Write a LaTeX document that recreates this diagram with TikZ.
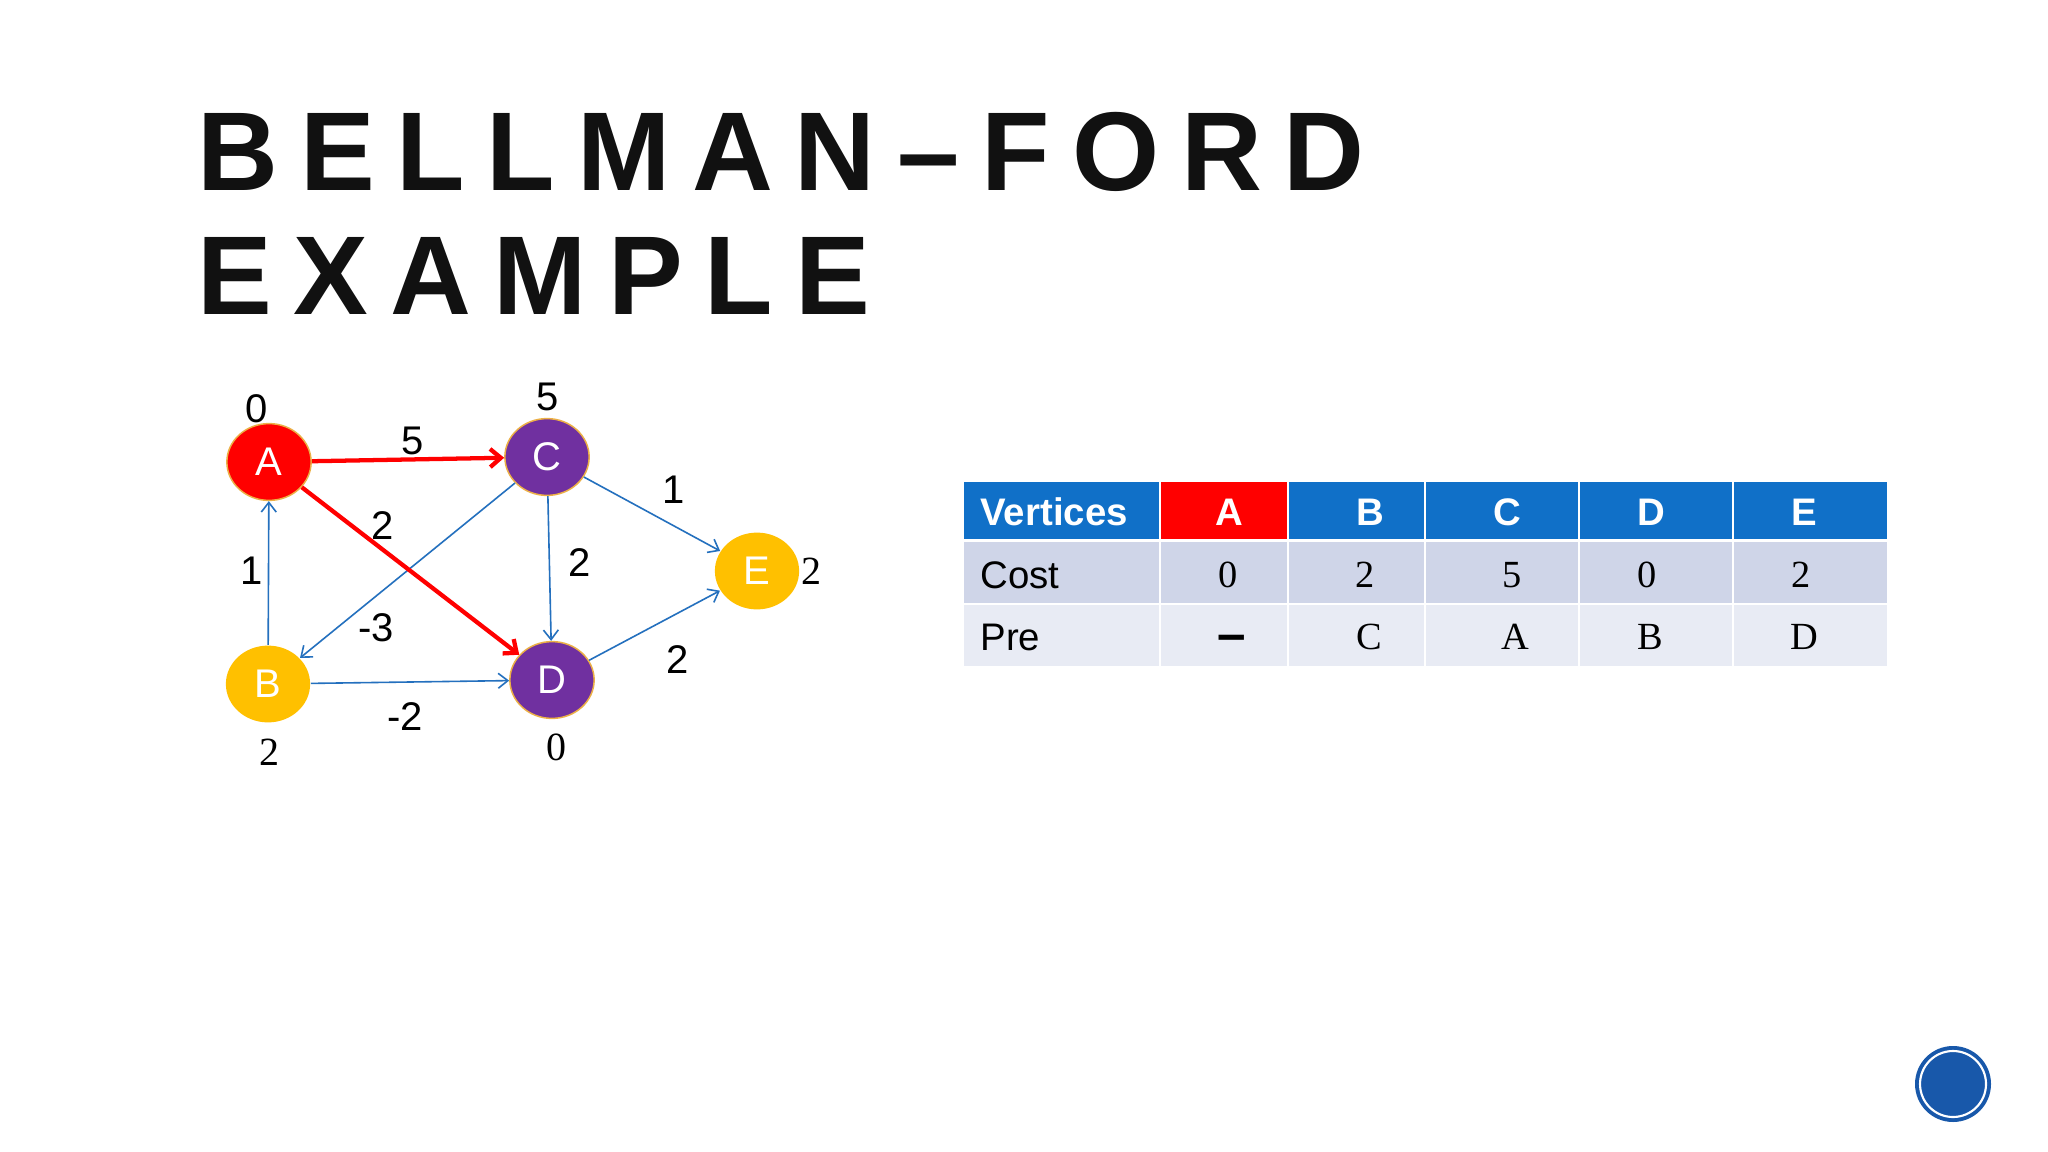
\documentclass[tikz,border=0pt]{standalone}
\usepackage{fontspec}
\setmainfont{Liberation Serif}
\setsansfont{Liberation Sans}
\newfontfamily\titlefont[LetterSpace=19.5]{Liberation Sans}
\newfontfamily\arialf{Liberation Sans}
\newfontfamily\tnrf{Liberation Serif}
\usetikzlibrary{shapes.geometric,arrows.meta}
\definecolor{vred}{RGB}{255,0,0}
\definecolor{vpurple}{RGB}{112,48,160}
\definecolor{vgold}{RGB}{255,192,0}
\definecolor{edgeblue}{RGB}{36,112,190}
\definecolor{hdrblue}{RGB}{16,112,200}
\definecolor{costrow}{RGB}{207,213,232}
\definecolor{prerow}{RGB}{232,235,244}
\definecolor{ringc}{RGB}{236,176,70}
\definecolor{titleblk}{RGB}{17,17,17}
\definecolor{badge}{RGB}{24,88,170}
\tikzset{
  vtx/.style={ellipse, minimum width=39.5pt, minimum height=36pt, inner sep=0pt,
    draw=ringc, line width=0.7pt, text=white, font=\arialf\fontsize{18.75}{20}\selectfont},
  sanslbl/.style={font=\arialf\fontsize{18.75}{20}\selectfont, inner sep=0pt},
  seriflbl/.style={font=\tnrf\fontsize{18.75}{20}\selectfont, inner sep=0pt},
  blueedge/.style={draw=edgeblue, line width=0.75pt, -{Straight Barb[length=4.5pt,width=7pt]}},
  rededge/.style={draw=vred, line width=2pt, -{Straight Barb[length=5pt,width=8.5pt]}},
  hdrtxt/.style={font=\arialf\bfseries\fontsize{18}{20}\selectfont, text=white, inner sep=0pt},
  celltxt/.style={font=\tnrf\fontsize{18}{20}\selectfont, inner sep=0pt},
  rowtxt/.style={font=\arialf\fontsize{18}{20}\selectfont, inner sep=0pt},
  titletxt/.style={font=\titlefont\bfseries\fontsize{52.5}{60}\selectfont, text=titleblk, inner sep=0pt}
}
\begin{document}
\begin{tikzpicture}[x=0.46875pt, y=-0.46875pt]
\useasboundingbox (0,0) rectangle (2048,1152);
\fill[white] (0,0) rectangle (2048,1152);

% title
\node[titletxt, anchor=base west] (t1) at (197,191) {BELLMAN–FORD};
\node[titletxt, anchor=base west] (t2) at (197,315) {EXAMPLE};

% graph nodes
\node[vtx, fill=vred] (A) at (269,462) {A};
\node[vtx, fill=vpurple] (C) at (547,457) {C};
\node[vtx, fill=vgold, draw=none] (E) at (757,571) {E};
\node[vtx, fill=vgold, draw=none] (B) at (268,684) {B};
\node[vtx, fill=vpurple] (D) at (552,680) {D};

% distance labels
\node[sanslbl] (la) at (257,409) {0};
\node[sanslbl] (lc) at (548,397) {5};
\node[seriflbl] (le) at (811,571) {2};
\node[seriflbl] (lb) at (269,752) {2};
\node[seriflbl] (ld) at (556,747) {0};

% edges
\draw[blueedge] (B) -- (A) node[sanslbl] at (252,571) {1};
\draw[blueedge] (C) -- (B) node[sanslbl] at (376,628) {-3};
\draw[blueedge] (C) -- (D) node[sanslbl] at (580,563) {2};
\draw[blueedge] (C) -- (E) node[sanslbl] at (674,490) {1};
\draw[blueedge] (B) -- (D) node[sanslbl] at (405,717) {-2};
\draw[blueedge] (D) -- (E) node[sanslbl] at (678,660) {2};
\draw[rededge] (A) -- (C) node[sanslbl] at (413,441) {5};
\draw[rededge] (A) -- (D) node[sanslbl] at (383,526) {2};

% table backgrounds
\fill[hdrblue] (964,482) rectangle (1887,539);
\fill[vred] (1160,482) rectangle (1288,539);
\fill[costrow] (964,542) rectangle (1887,604);
\fill[prerow] (964,604) rectangle (1887,666);
\draw[white, line width=1.2pt] (964,541) -- (1887,541);
\draw[white, line width=1pt] (964,604) -- (1887,604);
\foreach \cx in {1160,1288,1425,1579,1733}
  \draw[white, line width=1.1pt] (\cx,482) -- (\cx,666);

% table text
\node[hdrtxt, anchor=west] (hv) at (980,512) {Vertices};
\node[hdrtxt] (ha) at (1229,512) {A};
\node[hdrtxt] (hb) at (1370,512) {B};
\node[hdrtxt] (hc) at (1507,512) {C};
\node[hdrtxt] (hd) at (1651,512) {D};
\node[hdrtxt] (he) at (1804,512) {E};

\node[rowtxt, anchor=west] (rc) at (980,575) {Cost};
\node[celltxt] (ca) at (1228,575) {0};
\node[celltxt] (cb) at (1365,575) {2};
\node[celltxt] (cc) at (1512,575) {5};
\node[celltxt] (cd) at (1647,575) {0};
\node[celltxt] (ce) at (1801,575) {2};

\node[rowtxt, anchor=west] (rp) at (980,637) {Pre};
\node[font=\arialf\bfseries\fontsize{24}{26}\selectfont, inner sep=0pt, anchor=base] (pa) at (1232,651) {–};
\node[celltxt] (pb) at (1369,637) {C};
\node[celltxt] (pc) at (1515,637) {A};
\node[celltxt] (pd) at (1650,637) {B};
\node[celltxt] (pe) at (1804,637) {D};

% badge
\fill[badge] (1953,1084) circle (38);
\draw[white, line width=1pt] (1953,1084) circle (33);
\end{tikzpicture}
\end{document}
